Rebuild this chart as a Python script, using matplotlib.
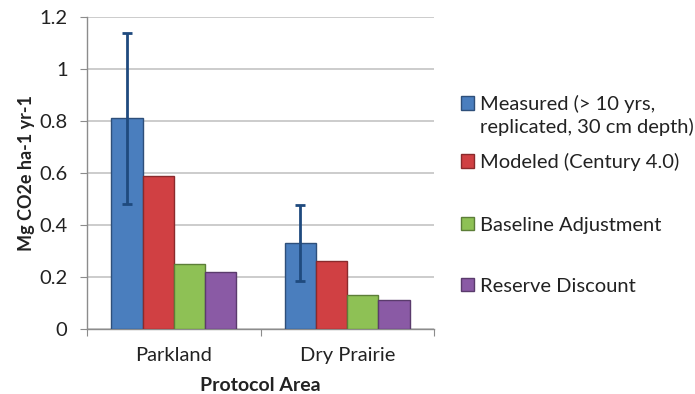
import matplotlib
matplotlib.use("Agg")
from matplotlib import pyplot as plt
import numpy as np

plt.rcParams['font.family'] = ['Lato', 'DejaVu Sans']

# ---- Data ----
categories = ["Parkland", "Dry Prairie"]
series_names = ["Measured (> 10 yrs,",
                "Modeled (Century 4.0)",
                "Baseline Adjustment",
                "Reserve Discount"]
measured_line2 = "replicated, 30 cm depth)"
measured = [0.81, 0.33]
modeled = [0.59, 0.26]
baseline = [0.25, 0.13]
reserve = [0.22, 0.11]
measured_err = [0.33, 0.147]

y_ticks = [0, 0.2, 0.4, 0.6, 0.8, 1.0, 1.2]
y_tick_labels = ["0", "0.2", "0.4", "0.6", "0.8", "1", "1.2"]

# ---- Styles ----
fill_colors = ["#4a7ebe", "#d04043", "#8ec155", "#8a5aa5"]
edge_colors = ["#2e4f7a", "#8a2a2c", "#5c7e38", "#5a3b6c"]
err_color = "#1f4a7e"
grid_color = "#c4c4c4"
axis_color = "#8c8c8c"
text_color = "#222222"
W, H = 695, 394

fig = plt.figure(figsize=(6.95, 3.94), dpi=100)
ax = fig.add_axes([87/W, 1 - 329/H, (434 - 87)/W, (329 - 17)/H])

x = np.arange(len(categories))
bar_w = 0.18
offsets = [-1.5, -0.5, 0.5, 1.5]
all_series = [measured, modeled, baseline, reserve]

bars = []
for k, vals in enumerate(all_series):
  b = ax.bar(x + offsets[k]*bar_w, vals, width=bar_w, color=fill_colors[k],
             edgecolor=edge_colors[k], linewidth=1.0, zorder=3)
  bars.append(b)

ax.errorbar(x + offsets[0]*bar_w, measured, yerr=measured_err, fmt="none",
            ecolor=err_color, elinewidth=2.0, capsize=3.5, capthick=2.0, zorder=4)

ax.set_xlim(-0.5, len(categories) - 0.5)
ax.set_ylim(0, 1.2)
ax.set_yticks(y_ticks)
ax.set_yticklabels(y_tick_labels)
ax.yaxis.grid(True, color=grid_color, linewidth=1.2, zorder=0)
ax.set_axisbelow(True)

# category ticks at boundaries, labels at centres
ax.set_xticks(np.arange(len(categories) + 1) - 0.5)
ax.set_xticklabels([])
ax.set_xticks(x, minor=True)
ax.set_xticklabels(categories, minor=True)
ax.tick_params(axis="x", which="major", length=5, color=axis_color, direction="out")
ax.tick_params(axis="x", which="minor", length=0, pad=13, labelsize=14.5, labelcolor=text_color)
ax.tick_params(axis="y", length=5, color=axis_color, pad=9, labelsize=14.5, labelcolor=text_color)

for s in ["top", "right"]:
  ax.spines[s].set_visible(False)
for s in ["left", "bottom"]:
  ax.spines[s].set_color(axis_color)
  ax.spines[s].set_linewidth(1.0)

ax.set_ylabel("Mg CO2e ha-1 yr-1", fontsize=13, fontweight="bold", color=text_color, labelpad=3)
ax.set_xlabel("Protocol Area", fontsize=14, fontweight="bold", color=text_color, labelpad=9)

# legend entries, placed one by one like the original
legend_y = [104, 162, 225, 286]
legs = []
for k in range(len(series_names)):
  leg = fig.legend([bars[k]], [series_names[k]], loc="center left",
                   bbox_to_anchor=(461/W, 1 - legend_y[k]/H), frameon=False,
                   fontsize=14.5, handlelength=0.65, handleheight=0.65, handletextpad=0.3,
                   borderpad=0, borderaxespad=0)
  for t in leg.get_texts():
    t.set_color(text_color)
  legs.append(leg)

# second line of the first legend label
fig.canvas.draw()
bb = legs[0].get_texts()[0].get_window_extent()
fig.text(bb.x0/W, 1 - 127/H, measured_line2, fontsize=14.5, color=text_color,
         ha="left", va="center")

fig.savefig("out.png", dpi=100)
